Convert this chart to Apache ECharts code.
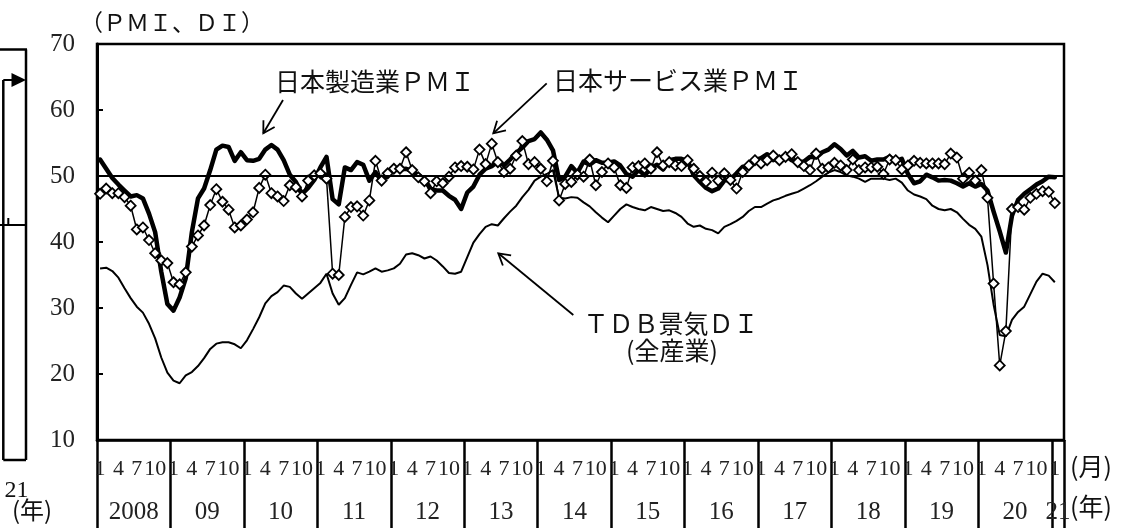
<!DOCTYPE html>
<html><head><meta charset="utf-8">
<script src="https://cdn.jsdelivr.net/npm/echarts@6/dist/echarts.min.js"></script>
<style>html,body{margin:0;padding:0;background:#fff}#c{width:1133px;height:529px}</style>
</head><body><div id="c"></div>
<script>
// ---- data (monthly, Jan 2008 .. Feb 2021) ----
const yearLabels = ['2008','09','10','11','12','13','14','15','16','17','18','19','20','21'];
const monthLabelEvery = 3; // labels 1,4,7,10

// 日本製造業PMI
const mfg = [
52.5,51.1,49.7,48.7,47.8,46.9,47.1,46.6,44.3,41.5,35.5,30.6,
29.6,31.6,34.5,41.5,46.6,48.1,50.9,54.0,54.6,54.4,52.3,53.6,
52.4,52.3,52.6,54.0,54.7,54.0,52.4,50.2,49.1,47.3,48.2,49.4,
51.3,52.9,46.5,45.7,51.3,50.9,52.1,51.7,49.3,50.6,49.2,50.2,
50.9,51.0,51.1,50.7,50.2,49.5,48.1,47.8,47.8,47.0,46.4,45.0,
47.5,48.4,50.2,51.1,51.5,52.2,51.6,52.5,53.5,54.3,55.3,55.6,
56.6,55.5,53.9,49.4,49.9,51.5,50.5,52.2,51.7,52.4,52.0,52.0,
52.2,51.6,50.3,49.9,50.9,50.1,51.2,51.7,51.0,52.4,52.6,52.6,
52.3,50.1,49.1,48.2,47.7,48.1,49.3,49.5,50.4,51.4,51.3,52.4,
52.7,53.3,52.4,52.7,53.1,52.4,52.1,52.2,52.9,52.8,53.6,54.0,
54.8,54.1,53.1,53.8,52.8,53.0,52.3,52.5,52.5,52.9,52.2,52.6,
50.3,48.9,49.2,50.2,49.8,49.3,49.4,49.3,48.9,48.4,48.9,48.4,
48.8,47.8,44.6,41.6,38.4,44.0,46.4,47.3,48.0,48.7,49.2,49.9,
49.8,null];

// 日本サービス業PMI
const svc = [
47.3,48.1,47.4,47.4,46.8,45.5,41.9,42.2,40.3,38.3,37.2,36.8,
33.9,33.6,35.4,39.3,41.0,42.5,45.6,48.0,46.1,44.9,42.2,42.5,
43.4,44.5,48.2,50.2,47.4,46.9,46.2,48.6,48.3,46.9,49.3,50.1,
50.4,49.6,35.2,35.0,43.8,45.3,45.4,44.0,46.3,52.3,49.3,50.4,
51.1,51.1,53.6,50.9,49.8,49.2,47.4,49.2,48.9,49.9,51.3,51.5,
51.4,51.0,54.0,51.8,54.9,52.1,50.6,51.1,53.1,55.3,51.8,52.1,
51.1,49.2,52.3,46.3,48.8,49.1,50.2,49.9,52.5,48.6,50.6,51.9,
51.3,48.6,48.2,51.3,51.5,51.9,51.1,53.6,51.6,52.1,51.6,51.5,
52.4,51.1,50.0,49.1,50.5,49.3,50.4,49.4,48.1,50.6,51.6,52.4,
51.9,52.4,53.1,52.4,52.9,53.3,52.1,51.5,50.9,53.4,51.1,51.3,
52.0,51.6,50.9,52.5,50.9,51.3,51.3,51.4,50.3,52.5,52.4,51.0,
51.6,52.3,52.0,51.9,51.9,51.9,51.8,53.4,52.8,49.6,50.5,49.3,
50.9,46.7,33.7,21.3,26.5,45.0,45.3,44.9,46.7,47.3,47.7,47.6,
45.9,null];

// TDB景気DI(全産業)
const tdb = [
36.0,36.1,35.6,34.6,33.0,31.5,30.2,29.3,27.6,25.4,22.5,20.2,
19.0,18.6,19.8,20.3,21.2,22.4,23.8,24.6,24.8,24.8,24.5,23.9,
25.1,26.8,28.6,30.7,31.8,32.4,33.4,33.2,32.2,31.4,32.2,33.0,
33.8,35.2,32.2,30.5,31.5,33.5,35.4,35.1,35.5,36.0,35.5,35.7,
36.0,36.7,38.1,38.3,38.0,37.5,37.8,37.2,36.3,35.3,35.2,35.5,
37.7,39.9,41.2,42.3,42.7,42.5,43.6,44.6,45.5,46.8,47.9,49.3,
49.9,50.3,50.9,46.7,46.6,46.8,46.7,46.0,45.4,44.5,43.7,43.0,
44.0,45.0,45.7,45.3,45.0,44.8,45.3,45.0,44.7,44.8,44.4,43.8,
42.8,42.3,42.5,42.0,41.8,41.3,42.3,42.7,43.2,43.8,44.7,45.3,
45.3,45.8,46.3,46.6,47.0,47.3,47.6,48.1,48.6,49.2,49.9,50.5,
50.9,50.6,50.1,49.9,49.6,49.1,49.6,49.6,49.6,49.4,49.6,49.0,
47.8,47.2,46.9,46.5,45.5,45.0,44.8,45.0,44.5,43.5,42.6,42.0,
40.8,36.5,30.5,25.9,25.7,28.2,29.4,30.2,32.1,34.0,35.2,34.9,
33.9,null];

// ---- categories ----
const cats = [];
for (let y = 2008; y <= 2020; y++) for (let m = 1; m <= 12; m++) cats.push(y + '/' + m);
cats.push('2021/1', '2021/2');
const N = cats.length;

const SERIF = "'Liberation Serif','Noto Sans CJK JP',serif";
const CJK = "'Noto Sans CJK JP','Liberation Serif',sans-serif";

function yearLabelAt(v) {
  if (v < 156 && (v - 6) % 12 === 0) return yearLabels[(v - 6) / 12];
  if (v === 157) return yearLabels[13];
  return '';
}

function txt(x, y, text, size, family, align) {
  return { type: 'text', x: x, y: y, silent: true,
    style: { text: text, fontSize: size, fontFamily: family, fill: '#111',
      align: align || 'center', verticalAlign: 'middle',
      textAlign: align || 'center', textVerticalAlign: 'middle' } };
}
function arrow(x1, y1, x2, y2, head) {
  const dx = x2 - x1, dy = y2 - y1, L = Math.hypot(dx, dy);
  const ux = dx / L, uy = dy / L, a = Math.PI / 6;
  const p1 = [x2 - head * (ux * Math.cos(a) - uy * Math.sin(a)), y2 - head * (ux * Math.sin(a) + uy * Math.cos(a))];
  const p2 = [x2 - head * (ux * Math.cos(a) + uy * Math.sin(a)), y2 - head * (-ux * Math.sin(a) + uy * Math.cos(a))];
  return [
    { type: 'line', silent: true, shape: { x1: x1, y1: y1, x2: x2, y2: y2 }, style: { stroke: '#000', lineWidth: 1.8 } },
    { type: 'polyline', silent: true, shape: { points: [p1, [x2, y2], p2] }, style: { stroke: '#000', lineWidth: 1.8, fill: null } }
  ];
}
function seg(x1, y1, x2, y2, w) {
  return { type: 'line', silent: true, shape: { x1: x1, y1: y1, x2: x2, y2: y2 }, style: { stroke: '#000', lineWidth: w || 2.5 } };
}

const graphics = [
  txt(172, 22, '（ＰＭＩ、ＤＩ）', 23, CJK),
  txt(275, 81, '日本製造業ＰＭＩ', 25, CJK, 'left'),
  txt(553, 80, '日本サービス業ＰＭＩ', 25, CJK, 'left'),
  txt(671, 323, 'ＴＤＢ景気ＤＩ', 25, CJK),
  txt(672, 350, '(全産業)', 25, CJK),
  txt(1091, 466, '(月)', 25, CJK),
  txt(1091, 506, '(年)', 25, CJK),
  // fragment of neighbouring chart at the left edge
  seg(0, 49.5, 27, 49.5), seg(26, 49.5, 26, 460), seg(3.3, 460, 26, 460), seg(3.3, 80, 3.3, 460),
  seg(3.3, 80, 14, 80, 2), seg(0, 225, 27, 225, 2), seg(8.3, 218, 8.3, 225, 2),
  { type: 'polygon', silent: true, shape: { points: [[11.5, 73], [26, 80], [11.5, 87]] }, style: { fill: '#000' } },
  txt(16.5, 491, '21', 24, SERIF),
  txt(32, 510, '(年)', 24, CJK)
].concat(
  arrow(283, 100, 263.3, 133.3, 13),
  arrow(546.7, 83.3, 493.3, 133.3, 13),
  arrow(573.3, 315, 498.3, 253.3, 13)
);

const chart = echarts.init(document.getElementById('c'), null, { renderer: 'canvas' });
chart.setOption({
  animation: false,
  backgroundColor: '#fff',
  grid: { left: 97, right: 69, top: 44, bottom: 89, containLabel: false, outerBoundsMode: 'none',
    show: true, borderColor: '#000', borderWidth: 2.5, backgroundColor: 'transparent' },
  xAxis: [
    { type: 'category', data: cats, boundaryGap: true, position: 'bottom',
      axisLine: { show: true, lineStyle: { color: '#000', width: 2.5 } },
      axisTick: { show: true, interval: function (i) { return i % 12 === 0; }, length: 88, lineStyle: { color: '#000', width: 2.5 } },
      axisLabel: { show: true, interval: function (i) { return i % monthLabelEvery === 0; },
        formatter: function (v, i) { return String(i % 12 + 1); },
        margin: 18, fontSize: 22, fontFamily: SERIF, color: '#222', hideOverlap: false },
      splitLine: { show: false } },
    { type: 'value', min: 0, max: N, interval: 1, position: 'bottom',
      axisLine: { show: false }, axisTick: { show: false }, splitLine: { show: false },
      axisLabel: { show: true, margin: 60, fontSize: 25, fontFamily: SERIF, color: '#222', hideOverlap: false,
        showMinLabel: true, showMaxLabel: true, formatter: function (v) { return yearLabelAt(Math.round(v)); } } }
  ],
  yAxis: { type: 'value', min: 10, max: 70, interval: 10,
    axisLine: { show: true, lineStyle: { color: '#000', width: 3 } },
    axisTick: { show: true, inside: true, length: 6, lineStyle: { color: '#000', width: 2 } },
    splitLine: { show: false },
    axisLabel: { margin: 22, fontSize: 25, fontFamily: SERIF, color: '#222' } },
  series: [
    { name: 'TDB景気DI(全産業)', type: 'line', data: tdb, xAxisIndex: 0, symbol: 'none',
      lineStyle: { color: '#000', width: 2 }, z: 2,
      markLine: { silent: true, symbol: 'none', label: { show: false },
        lineStyle: { color: '#000', width: 2, type: 'solid' }, data: [{ yAxis: 50 }] } },
    { name: '日本製造業PMI', type: 'line', data: mfg, xAxisIndex: 0, symbol: 'none',
      lineStyle: { color: '#000', width: 4.5, join: 'round', cap: 'round' }, z: 3 },
    { name: '日本サービス業PMI', type: 'line', data: svc, xAxisIndex: 0, symbol: 'diamond', symbolSize: 10,
      showAllSymbol: true, lineStyle: { color: '#000', width: 1.5 },
      itemStyle: { color: '#fff', borderColor: '#000', borderWidth: 1.8 }, z: 4 }
  ],
  graphic: graphics
});
</script></body></html>
